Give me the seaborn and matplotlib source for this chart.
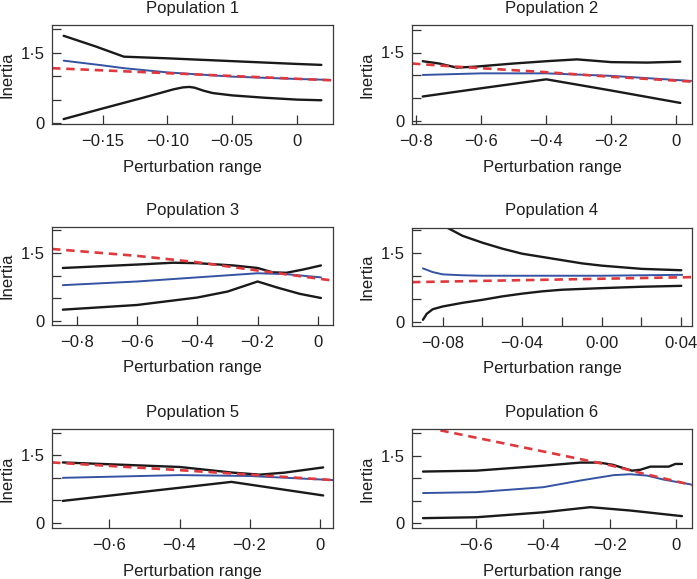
import seaborn as sns
import matplotlib
matplotlib.use("Agg")
import matplotlib.pyplot as plt

# Population 1
p1_upper_x = [-0.180, -0.155, -0.1335, -0.10, -0.05, 0.0, 0.019]
p1_upper_y = [1.86, 1.63, 1.415, 1.38, 1.32, 1.26, 1.24]
p1_lower_x = [-0.180, -0.15, -0.12, -0.095, -0.088, -0.083, -0.079, -0.072, -0.065, -0.05, -0.025, 0.0, 0.019]
p1_lower_y = [0.085, 0.31, 0.53, 0.72, 0.76, 0.77, 0.755, 0.69, 0.64, 0.59, 0.54, 0.50, 0.486]
p1_mid_x = [-0.180, -0.15, -0.1335, -0.10, -0.05, 0.0, 0.026]
p1_mid_y = [1.33, 1.23, 1.17, 1.08, 0.99, 0.94, 0.92]
p1_ref_x = [-0.189, 0.028]
p1_ref_y = [1.17, 0.91]

# Population 2
p2_upper_x = [-0.78, -0.73, -0.675, -0.62, -0.5, -0.4, -0.306, -0.2, -0.09, 0.012]
p2_upper_y = [1.31, 1.26, 1.17, 1.19, 1.26, 1.31, 1.35, 1.29, 1.28, 1.30]
p2_lower_x = [-0.78, -0.6, -0.4, -0.2, 0.012]
p2_lower_y = [0.54, 0.72, 0.915, 0.67, 0.40]
p2_mid_x = [-0.78, -0.6, -0.4, -0.2, 0.045]
p2_mid_y = [1.01, 1.045, 1.045, 0.99, 0.88]
p2_ref_x = [-0.813, -0.675, -0.4, -0.2, 0.048]
p2_ref_y = [1.26, 1.19, 1.07, 0.97, 0.865]

# Population 3
p3_upper_x = [-0.846, -0.6, -0.48, -0.4, -0.28, -0.2, -0.15, -0.105, -0.05, 0.01]
p3_upper_y = [1.165, 1.24, 1.28, 1.27, 1.22, 1.165, 1.07, 1.06, 1.13, 1.22]
p3_lower_x = [-0.846, -0.6, -0.4, -0.3, -0.2, -0.136, -0.06, 0.01]
p3_lower_y = [0.255, 0.357, 0.52, 0.65, 0.87, 0.74, 0.60, 0.51]
p3_mid_x = [-0.846, -0.6, -0.4, -0.2, -0.105, 0.01]
p3_mid_y = [0.79, 0.87, 0.96, 1.05, 1.03, 0.96]
p3_ref_x = [-0.882, -0.6, -0.4, -0.2, 0.05]
p3_ref_y = [1.58, 1.43, 1.29, 1.11, 0.89]

# Population 4
p4_upper_x = [-0.080, -0.07, -0.06, -0.05, -0.04, -0.03, -0.02, -0.01, 0.0, 0.02, 0.04]
p4_upper_y = [2.10, 1.87, 1.72, 1.59, 1.48, 1.41, 1.34, 1.27, 1.22, 1.15, 1.12]
p4_lower_x = [-0.0899, -0.088, -0.085, -0.08, -0.07, -0.06, -0.05, -0.04, -0.03, -0.02, 0.0, 0.02, 0.04]
p4_lower_y = [0.04, 0.17, 0.27, 0.33, 0.41, 0.475, 0.55, 0.61, 0.66, 0.695, 0.73, 0.76, 0.78]
p4_mid_x = [-0.0899, -0.085, -0.08, -0.07, -0.06, -0.04, 0.0, 0.02, 0.0405]
p4_mid_y = [1.16, 1.08, 1.03, 1.01, 1.00, 1.00, 1.00, 1.01, 1.02]
p4_ref_x = [-0.0954, 0.0454]
p4_ref_y = [0.86, 0.97]

# Population 5
p5_upper_x = [-0.733, -0.6, -0.4, -0.248, -0.171, -0.1, 0.01]
p5_upper_y = [1.34, 1.30, 1.24, 1.115, 1.07, 1.115, 1.23]
p5_lower_x = [-0.733, -0.4, -0.252, 0.01]
p5_lower_y = [0.49, 0.78, 0.91, 0.61]
p5_mid_x = [-0.733, -0.4, -0.2, 0.038]
p5_mid_y = [1.00, 1.06, 1.04, 0.95]
p5_ref_x = [-0.764, -0.4, -0.2, 0.038]
p5_ref_y = [1.34, 1.17, 1.07, 0.95]

# Population 6
p6_upper_x = [-0.76, -0.6, -0.4, -0.288, -0.23, -0.19, -0.16, -0.133, -0.108, -0.078, -0.048, -0.023, -0.003, 0.017]
p6_upper_y = [1.15, 1.17, 1.28, 1.35, 1.35, 1.30, 1.23, 1.17, 1.19, 1.26, 1.26, 1.26, 1.32, 1.32]
p6_lower_x = [-0.76, -0.6, -0.4, -0.258, -0.138, 0.017]
p6_lower_y = [0.11, 0.13, 0.24, 0.355, 0.28, 0.155]
p6_mid_x = [-0.76, -0.6, -0.4, -0.288, -0.188, -0.138, -0.088, -0.038, 0.042]
p6_mid_y = [0.67, 0.69, 0.80, 0.95, 1.07, 1.09, 1.06, 0.97, 0.865]
p6_ref_x = [-0.708, -0.4, -0.198, -0.108, 0.047]
p6_ref_y = [2.07, 1.60, 1.29, 1.12, 0.85]

titles = ["Population 1", "Population 2", "Population 3",
          "Population 4", "Population 5", "Population 6"]

xticks_p1 = [-0.15, -0.10, -0.05, 0.0]
xlabels_p1 = ["\u22120\u00b715", "\u22120\u00b710", "\u22120\u00b705", "0"]
xticks_p23 = [-0.8, -0.6, -0.4, -0.2, 0.0]
xlabels_p23 = ["\u22120\u00b78", "\u22120\u00b76", "\u22120\u00b74", "\u22120\u00b72", "0"]
xticks_p4 = [-0.08, -0.06, -0.04, -0.02, 0.0, 0.02, 0.04]
xlabels_p4 = ["\u22120\u00b708", "", "\u22120\u00b704", "", "0\u00b700", "", "0\u00b704"]
xticks_p56 = [-0.6, -0.4, -0.2, 0.0]
xlabels_p56 = ["\u22120\u00b76", "\u22120\u00b74", "\u22120\u00b72", "0"]
yticks = [0, 0.5, 1.0, 1.5, 2.0]
ylabels = ["0", "", "", "1\u00b75", ""]

sns.set_style("ticks")
plt.rcParams["font.family"] = ["Liberation Sans", "DejaVu Sans"]

panels = [
    (p1_upper_x, p1_upper_y, p1_lower_x, p1_lower_y, p1_mid_x, p1_mid_y, p1_ref_x, p1_ref_y,
     (-0.189, 0.028), (-0.02, 2.09), xticks_p1, xlabels_p1),
    (p2_upper_x, p2_upper_y, p2_lower_x, p2_lower_y, p2_mid_x, p2_mid_y, p2_ref_x, p2_ref_y,
     (-0.813, 0.048), (-0.06, 2.1), xticks_p23, xlabels_p23),
    (p3_upper_x, p3_upper_y, p3_lower_x, p3_lower_y, p3_mid_x, p3_mid_y, p3_ref_x, p3_ref_y,
     (-0.882, 0.05), (-0.08, 2.06), xticks_p23, xlabels_p23),
    (p4_upper_x, p4_upper_y, p4_lower_x, p4_lower_y, p4_mid_x, p4_mid_y, p4_ref_x, p4_ref_y,
     (-0.0954, 0.0454), (-0.095, 2.04), xticks_p4, xlabels_p4),
    (p5_upper_x, p5_upper_y, p5_lower_x, p5_lower_y, p5_mid_x, p5_mid_y, p5_ref_x, p5_ref_y,
     (-0.764, 0.038), (-0.11, 2.08), xticks_p56, xlabels_p56),
    (p6_upper_x, p6_upper_y, p6_lower_x, p6_lower_y, p6_mid_x, p6_mid_y, p6_ref_x, p6_ref_y,
     (-0.793, 0.047), (-0.11, 2.1), xticks_p56, xlabels_p56),
]

W, H = 697, 579
fig = plt.figure(figsize=(W / 100, H / 100), dpi=100)

# axes boxes in pixels: left, top, right, bottom
boxes = [(52, 25, 333, 124), (412, 25, 692, 124),
         (52, 227, 333, 325), (412, 228, 692, 326),
         (52, 429, 333, 528), (412, 429, 692, 528)]

black = "#1a1a1a"
blue = "#3453a3"
red = "#e0383c"

for i, (panel, box) in enumerate(zip(panels, boxes)):
    ux, uy, lx, ly, mx, my, rx, ry, xlim, ylim, xt, xl = panel
    l, t, r, b = box
    ax = fig.add_axes([l / W, 1 - b / H, (r - l) / W, (b - t) / H])

    sns.lineplot(x=ux, y=uy, ax=ax, color=black, linewidth=1.7)
    sns.lineplot(x=lx, y=ly, ax=ax, color=black, linewidth=1.7)
    sns.lineplot(x=mx, y=my, ax=ax, color=blue, linewidth=1.4)
    sns.lineplot(x=rx, y=ry, ax=ax, color=red, linewidth=1.9, linestyle=(0, (3.2, 2.2)))

    ax.set_xlim(*xlim)
    ax.set_ylim(*ylim)
    ax.set_xticks(xt)
    ax.set_xticklabels(xl)
    ax.set_yticks(yticks)
    ax.set_yticklabels(ylabels)
    ax.tick_params(direction="in", length=6.5, width=0.9, colors="#333333",
                   labelcolor="#1e1e1e", labelsize=12)
    ax.tick_params(axis="x", pad=7)
    ax.tick_params(axis="y", pad=5)
    for s in ax.spines.values():
        s.set_visible(True)
        s.set_linewidth(0.9)
        s.set_color("#3a3a3a")

    ax.set_title(titles[i], fontsize=12, pad=9, color="#1e1e1e")
    ax.set_xlabel("Perturbation range", fontsize=12, color="#1e1e1e")
    ax.set_ylabel("Inertia", fontsize=12, color="#1e1e1e")
    ax.xaxis.set_label_coords(0.5, -0.36)
    ax.yaxis.set_label_coords(-0.135, 0.5)

fig.savefig("out.png", dpi=100)
